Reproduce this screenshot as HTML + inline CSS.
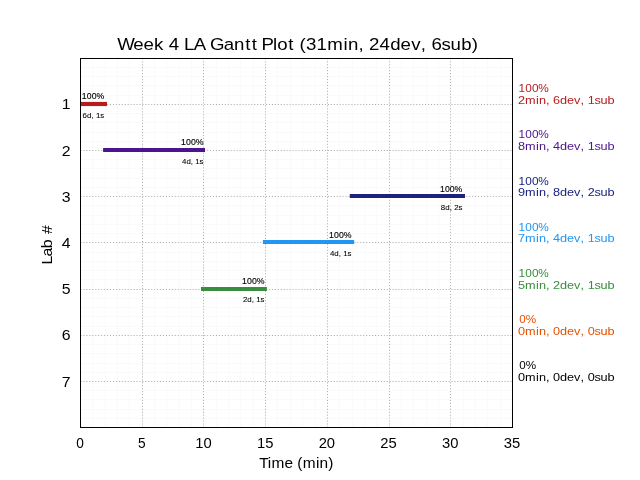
<!DOCTYPE html>
<html><head><meta charset="utf-8"><style>
html,body{margin:0;padding:0;background:#fff;}
svg{display:block;will-change:transform;}
text{font-family:"Liberation Sans",sans-serif;}
</style></head><body>
<svg width="640" height="480" viewBox="0 0 640 480">
<rect width="640" height="480" fill="#fff"/>
<path d="M92.5 58V427 M105.5 58V427 M117.5 58V427 M129.5 58V427 M154.5 58V427 M166.5 58V427 M179.5 58V427 M191.5 58V427 M216.5 58V427 M228.5 58V427 M240.5 58V427 M253.5 58V427 M277.5 58V427 M290.5 58V427 M302.5 58V427 M315.5 58V427 M339.5 58V427 M352.5 58V427 M364.5 58V427 M376.5 58V427 M401.5 58V427 M413.5 58V427 M426.5 58V427 M438.5 58V427 M463.5 58V427 M475.5 58V427 M487.5 58V427 M500.5 58V427 M80 67.5H512 M80 76.5H512 M80 85.5H512 M80 95.5H512 M80 113.5H512 M80 122.5H512 M80 132.5H512 M80 141.5H512 M80 159.5H512 M80 168.5H512 M80 178.5H512 M80 187.5H512 M80 205.5H512 M80 215.5H512 M80 224.5H512 M80 233.5H512 M80 252.5H512 M80 261.5H512 M80 270.5H512 M80 279.5H512 M80 298.5H512 M80 307.5H512 M80 316.5H512 M80 326.5H512 M80 344.5H512 M80 353.5H512 M80 363.5H512 M80 372.5H512 M80 390.5H512 M80 399.5H512 M80 409.5H512 M80 418.5H512" stroke="#fafafa" stroke-width="1" fill="none"/>
<path d="M142.5 427.2V57.6 M203.5 427.2V57.6 M265.5 427.2V57.6 M327.5 427.2V57.6 M389.5 427.2V57.6 M450.5 427.2V57.6" stroke="#b0b0b0" stroke-width="1" stroke-dasharray="1.1111 1.8333" stroke-dashoffset="0.3" fill="none"/>
<path d="M80 104.5H512 M80 150.5H512 M80 196.5H512 M80 242.5H512 M80 289.5H512 M80 335.5H512 M80 381.5H512" stroke="#b0b0b0" stroke-width="1" stroke-dasharray="1.1111 1.8333" stroke-dashoffset="-0.52" fill="none"/>
<path d="M81.0 104H107.0" stroke="#b71c1c" stroke-width="4.17" fill="none"/>
<path d="M103.1 150H205.0" stroke="#4a148c" stroke-width="4.17" fill="none"/>
<path d="M349.8 196H465.0" stroke="#1a237e" stroke-width="4.17" fill="none"/>
<path d="M262.9 242H354.1" stroke="#2196f3" stroke-width="4.17" fill="none"/>
<path d="M201.0 289H266.9" stroke="#388e3c" stroke-width="4.17" fill="none"/>
<rect x="80.5" y="58.5" width="432" height="369" fill="none" stroke="#000" stroke-width="1"/>
<text transform="translate(104.00 98.90) scale(0.8869 1)" x="-25.13 -19.52 -13.92 -8.57" y="0" font-size="9.85" fill="#000" stroke="#000" stroke-width="0.15">100%</text>
<text transform="translate(104.00 117.80) scale(1.0798 1)" x="-19.83 -15.71 -11.61 -9.55 -7.47 -3.51" y="0" font-size="7.29" fill="#000" stroke="#000" stroke-width="0.08">6d, 1s</text>
<text transform="translate(203.40 144.80) scale(0.8869 1)" x="-25.13 -19.52 -13.92 -8.57" y="0" font-size="9.85" fill="#000" stroke="#000" stroke-width="0.15">100%</text>
<text transform="translate(203.40 163.90) scale(1.0798 1)" x="-19.83 -15.71 -11.61 -9.55 -7.47 -3.51" y="0" font-size="7.29" fill="#000" stroke="#000" stroke-width="0.08">4d, 1s</text>
<text transform="translate(462.20 191.80) scale(0.8869 1)" x="-25.13 -19.52 -13.92 -8.57" y="0" font-size="9.85" fill="#000" stroke="#000" stroke-width="0.15">100%</text>
<text transform="translate(462.20 209.90) scale(1.0798 1)" x="-19.83 -15.71 -11.61 -9.55 -7.47 -3.51" y="0" font-size="7.29" fill="#000" stroke="#000" stroke-width="0.08">8d, 2s</text>
<text transform="translate(351.30 238.00) scale(0.8869 1)" x="-25.13 -19.52 -13.92 -8.57" y="0" font-size="9.85" fill="#000" stroke="#000" stroke-width="0.15">100%</text>
<text transform="translate(351.30 256.00) scale(1.0798 1)" x="-19.83 -15.71 -11.61 -9.55 -7.47 -3.51" y="0" font-size="7.29" fill="#000" stroke="#000" stroke-width="0.08">4d, 1s</text>
<text transform="translate(264.30 284.00) scale(0.8869 1)" x="-25.13 -19.52 -13.92 -8.57" y="0" font-size="9.85" fill="#000" stroke="#000" stroke-width="0.15">100%</text>
<text transform="translate(264.30 301.60) scale(1.0798 1)" x="-19.83 -15.71 -11.61 -9.55 -7.47 -3.51" y="0" font-size="7.29" fill="#000" stroke="#000" stroke-width="0.08">2d, 1s</text>
<text transform="translate(298.00 49.50) scale(1.0986 1)" x="-164.49 -149.96 -140.65 -131.14 -122.47 -117.61 -108.03 -103.77 -94.98 -84.09 -80.08 -67.69 -58.26 -48.13 -42.20 -36.83 -33.17 -22.72 -18.83 -8.87 -3.50 1.39 7.26 16.89 26.72 41.38 45.44 55.01 59.82 64.67 74.30 83.92 93.37 102.98 111.76 116.57 121.42 130.65 138.91 148.51 158.16" y="0" font-size="17.00" fill="#000">Week 4 LA Gantt Plot (31min, 24dev, 6sub)</text>
<text transform="translate(70.60 109.40) scale(1.0884 1)" x="-8.11" y="0" font-size="14.58" fill="#000">1</text>
<text transform="translate(70.60 155.60) scale(1.0884 1)" x="-8.11" y="0" font-size="14.58" fill="#000">2</text>
<text transform="translate(70.60 201.80) scale(1.0884 1)" x="-8.11" y="0" font-size="14.58" fill="#000">3</text>
<text transform="translate(70.60 248.00) scale(1.0884 1)" x="-8.11" y="0" font-size="14.58" fill="#000">4</text>
<text transform="translate(70.60 294.20) scale(1.0884 1)" x="-8.11" y="0" font-size="14.58" fill="#000">5</text>
<text transform="translate(70.60 340.40) scale(1.0884 1)" x="-8.11" y="0" font-size="14.58" fill="#000">6</text>
<text transform="translate(70.60 386.60) scale(1.0884 1)" x="-8.11" y="0" font-size="14.58" fill="#000">7</text>
<text transform="translate(80.00 447.90) scale(0.9405 1)" x="-4.06" y="0" font-size="14.58" fill="#000">0</text>
<text transform="translate(141.71 447.90) scale(0.9405 1)" x="-4.06" y="0" font-size="14.58" fill="#000">5</text>
<text transform="translate(203.43 447.90) scale(1.0144 1)" x="-8.11 -0.00" y="0" font-size="14.58" fill="#000">10</text>
<text transform="translate(265.14 447.90) scale(1.0144 1)" x="-8.11 -0.00" y="0" font-size="14.58" fill="#000">15</text>
<text transform="translate(326.86 447.90) scale(1.0144 1)" x="-8.11 -0.00" y="0" font-size="14.58" fill="#000">20</text>
<text transform="translate(388.57 447.90) scale(1.0144 1)" x="-8.11 -0.00" y="0" font-size="14.58" fill="#000">25</text>
<text transform="translate(450.29 447.90) scale(1.0144 1)" x="-8.11 -0.00" y="0" font-size="14.58" fill="#000">30</text>
<text transform="translate(512.00 447.90) scale(1.0144 1)" x="-8.11 -0.00" y="0" font-size="14.58" fill="#000">35</text>
<text transform="translate(296.60 468.00) scale(1.0594 1)" x="-35.37 -27.19 -23.62 -11.41 -3.40 0.73 5.83 18.31 21.72 29.91" y="0" font-size="14.58" fill="#000">Time (min)</text>
<text transform="translate(51.70 243.90) rotate(-90) scale(1.0872 1)" x="-18.87 -11.66 -3.97 3.93 9.03" y="0" font-size="14.58" fill="#000">Lab #</text>
<text transform="translate(518.40 92.00) scale(1.0123 1)" x="0.08 6.72 13.36 19.69" y="0" font-size="11.67" fill="#b71c1c">100%</text>
<text transform="translate(517.90 104.00) scale(1.0890 1)" x="0.01 6.62 16.57 19.28 25.77 29.01 32.26 38.76 45.14 51.63 57.58 60.82 64.07 70.31 75.88 82.36" y="0" font-size="11.67" fill="#b71c1c">2min, 6dev, 1sub</text>
<text transform="translate(518.40 138.00) scale(1.0123 1)" x="0.08 6.72 13.36 19.69" y="0" font-size="11.67" fill="#4a148c">100%</text>
<text transform="translate(517.90 150.00) scale(1.0890 1)" x="0.01 6.62 16.57 19.28 25.77 29.01 32.26 38.76 45.14 51.63 57.58 60.82 64.07 70.31 75.88 82.36" y="0" font-size="11.67" fill="#4a148c">8min, 4dev, 1sub</text>
<text transform="translate(518.40 185.00) scale(1.0123 1)" x="0.08 6.72 13.36 19.69" y="0" font-size="11.67" fill="#1a237e">100%</text>
<text transform="translate(517.90 196.00) scale(1.0890 1)" x="0.01 6.62 16.57 19.28 25.77 29.01 32.26 38.76 45.14 51.63 57.58 60.82 64.07 70.31 75.88 82.36" y="0" font-size="11.67" fill="#1a237e">9min, 8dev, 2sub</text>
<text transform="translate(518.40 231.00) scale(1.0123 1)" x="0.08 6.72 13.36 19.69" y="0" font-size="11.67" fill="#2196f3">100%</text>
<text transform="translate(517.90 242.00) scale(1.0890 1)" x="0.01 6.62 16.57 19.28 25.77 29.01 32.26 38.76 45.14 51.63 57.58 60.82 64.07 70.31 75.88 82.36" y="0" font-size="11.67" fill="#2196f3">7min, 4dev, 1sub</text>
<text transform="translate(518.40 277.00) scale(1.0123 1)" x="0.08 6.72 13.36 19.69" y="0" font-size="11.67" fill="#388e3c">100%</text>
<text transform="translate(517.90 289.00) scale(1.0890 1)" x="0.01 6.62 16.57 19.28 25.77 29.01 32.26 38.76 45.14 51.63 57.58 60.82 64.07 70.31 75.88 82.36" y="0" font-size="11.67" fill="#388e3c">5min, 2dev, 1sub</text>
<text transform="translate(519.20 323.00) scale(0.9992 1)" x="0.14 6.63" y="0" font-size="11.67" fill="#e65100">0%</text>
<text transform="translate(517.90 335.00) scale(1.0890 1)" x="0.01 6.62 16.57 19.28 25.77 29.01 32.26 38.76 45.14 51.63 57.58 60.82 64.07 70.31 75.88 82.36" y="0" font-size="11.67" fill="#e65100">0min, 0dev, 0sub</text>
<text transform="translate(519.20 369.00) scale(0.9992 1)" x="0.14 6.63" y="0" font-size="11.67" fill="#000000">0%</text>
<text transform="translate(517.90 381.00) scale(1.0890 1)" x="0.01 6.62 16.57 19.28 25.77 29.01 32.26 38.76 45.14 51.63 57.58 60.82 64.07 70.31 75.88 82.36" y="0" font-size="11.67" fill="#000000">0min, 0dev, 0sub</text>
</svg>
</body></html>
